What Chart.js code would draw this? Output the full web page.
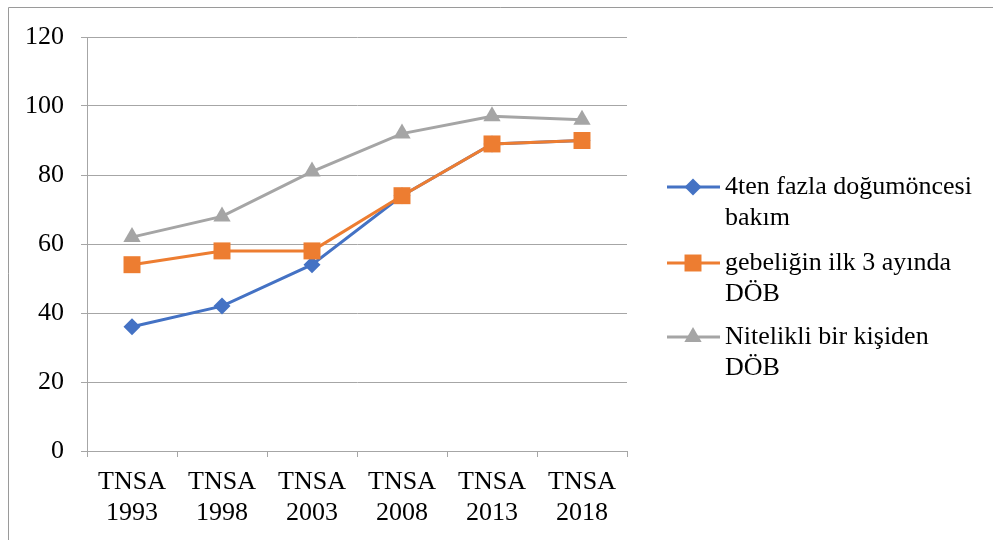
<!DOCTYPE html>
<html>
<head>
<meta charset="utf-8">
<script src="https://cdn.jsdelivr.net/npm/chart.js@4/dist/chart.umd.min.js"></script>
<style>
  html, body { margin: 0; padding: 0; background: #ffffff; }
  #wrap { position: relative; width: 994px; height: 540px; }
  canvas { display: block; }
</style>
</head>
<body>
<div id="wrap"><canvas id="c" width="994" height="540"></canvas></div>
<script>
// Survey rounds and indicator values (%)
const categories = [["TNSA", "1993"], ["TNSA", "1998"], ["TNSA", "2003"], ["TNSA", "2008"], ["TNSA", "2013"], ["TNSA", "2018"]];
const antenatal4Plus = [36, 42, 54, 74, 89, 90];
const firstTrimester = [54, 58, 58, 74, 89, 90];
const skilledProvider = [62, 68, 81, 92, 97, 96];
const seriesNames = [
  ["4ten fazla doğumöncesi", "bakım"],
  ["gebeliğin ilk 3 ayında", "DÖB"],
  ["Nitelikli bir kişiden", "DÖB"]
];
const yTicks = [0, 20, 40, 60, 80, 100, 120];

const FONT = "\"Times New Roman\", \"Liberation Serif\", Times, serif";
const FONT_SIZE = 26;
const GRID = "#a6a6a6";
const COLORS = ["#4472C4", "#ED7D31", "#A5A5A5"];
const STYLES = [
  { pointStyle: "rectRot", radius: 8.5 },
  { pointStyle: "rect", radius: 12 },
  { pointStyle: "triangle", radius: 10 }
];

// Outer frame (top and left edges) and a wrapped legend on the right
const framePlugin = {
  id: "frameAndLegend",
  afterDraw(chart) {
    const ctx = chart.ctx;
    ctx.save();
    ctx.strokeStyle = "#9a9a9a";
    ctx.lineWidth = 1;
    ctx.beginPath();
    ctx.moveTo(8.5, 540);
    ctx.lineTo(8.5, 7.5);
    ctx.lineTo(993, 7.5);
    ctx.stroke();

    const rows = [187, 263, 337];
    ctx.font = FONT_SIZE + "px " + FONT;
    ctx.textBaseline = "middle";
    ctx.textAlign = "left";
    rows.forEach((y, i) => {
      ctx.strokeStyle = COLORS[i];
      ctx.lineWidth = 3;
      ctx.beginPath();
      ctx.moveTo(667, y);
      ctx.lineTo(720, y);
      ctx.stroke();
      ctx.fillStyle = COLORS[i];
      Chart.helpers.drawPoint(ctx, {
        pointStyle: STYLES[i].pointStyle,
        radius: STYLES[i].radius,
        rotation: 0,
        borderWidth: 0
      }, 693, y);
      ctx.fillStyle = "#000000";
      seriesNames[i].forEach((line, j) => {
        ctx.fillText(line, 725, y + j * 31);
      });
    });
    ctx.restore();
  }
};

const values = [antenatal4Plus, firstTrimester, skilledProvider];

new Chart(document.getElementById("c"), {
  type: "line",
  data: {
    labels: categories,
    datasets: values.map((data, i) => ({
      label: seriesNames[i].join(" "),
      data: data,
      borderColor: COLORS[i],
      backgroundColor: COLORS[i],
      borderWidth: 3,
      pointStyle: STYLES[i].pointStyle,
      pointRadius: STYLES[i].radius,
      pointBorderWidth: 0,
      pointHoverRadius: STYLES[i].radius,
      tension: 0,
      fill: false,
      order: 3 - i
    }))
  },
  options: {
    responsive: false,
    animation: false,
    devicePixelRatio: 1,
    layout: { padding: { top: 37, right: 367, left: 0, bottom: 0 } },
    plugins: {
      legend: { display: false },
      tooltip: { enabled: false }
    },
    scales: {
      x: {
        type: "category",
        offset: true,
        grid: {
          display: true,
          drawOnChartArea: false,
          drawTicks: true,
          tickLength: 6,
          color: GRID,
          offset: true
        },
        border: { display: true, color: GRID, width: 1 },
        ticks: {
          color: "#000000",
          font: { family: FONT, size: FONT_SIZE, lineHeight: "31px" },
          padding: 10,
          maxRotation: 0,
          autoSkip: false
        },
        afterFit(scale) { scale.height = 89; }
      },
      y: {
        min: 0,
        max: 120,
        afterBuildTicks(scale) { scale.ticks = yTicks.map(v => ({ value: v })); },
        grid: {
          color: GRID,
          lineWidth: 1,
          drawTicks: true,
          tickLength: 6
        },
        border: { display: true, color: GRID, width: 1 },
        ticks: {
          color: "#000000",
          font: { family: FONT, size: FONT_SIZE },
          padding: 17
        },
        afterFit(scale) { scale.width = 87; }
      }
    }
  },
  plugins: [framePlugin]
});
</script>
</body>
</html>
